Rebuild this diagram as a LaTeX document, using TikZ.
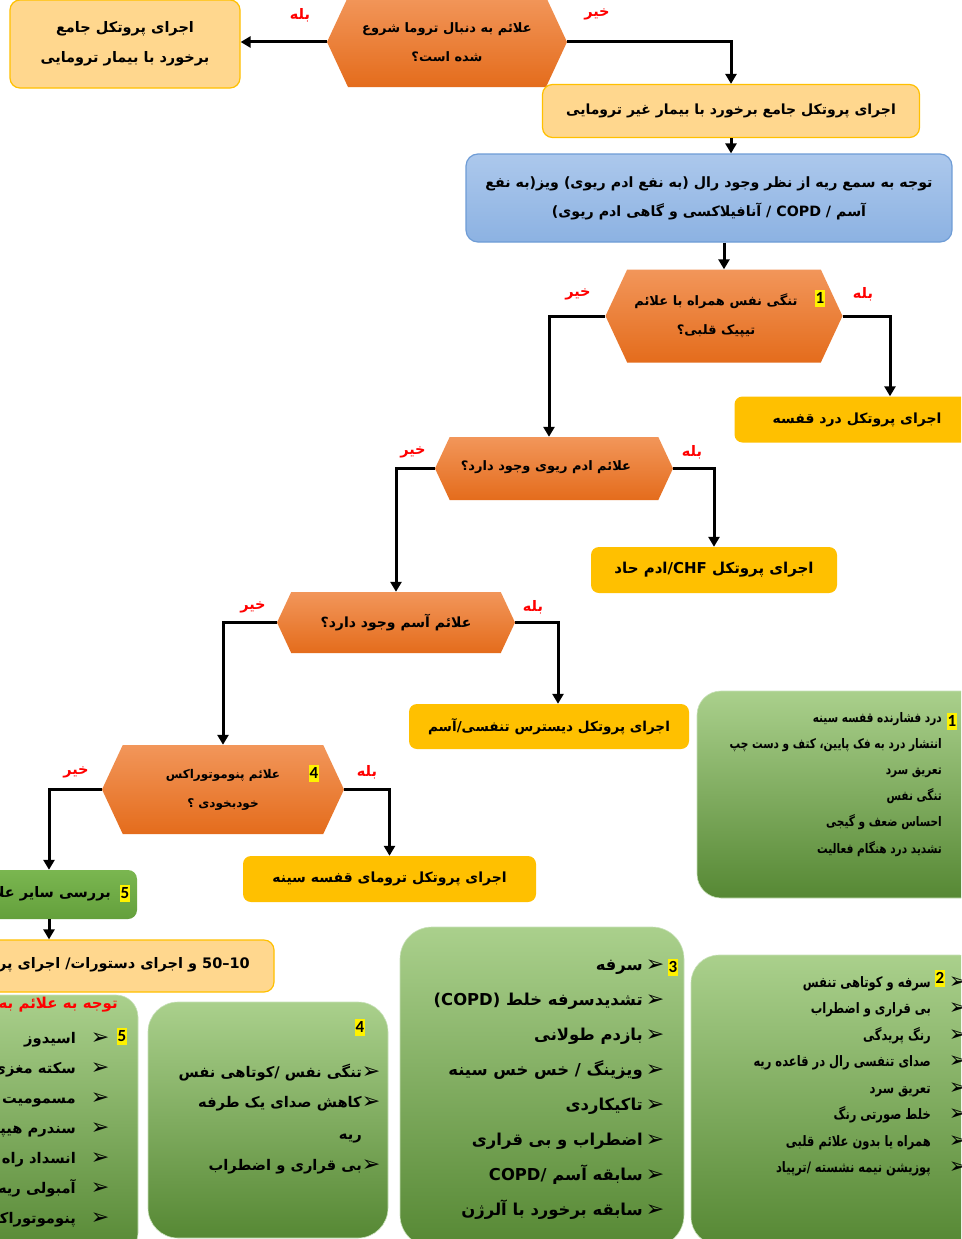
\documentclass[tikz,border=0pt]{standalone}
\usepackage{fontspec}
\usetikzlibrary{shapes.symbols,arrows.meta,calc}
\TeXXeTstate=1
\newfontfamily\fa[Script=Arabic]{DejaVu Sans}
\newfontfamily\facond[Script=Arabic,FakeStretch=0.8]{DejaVu Sans}
\newfontfamily\calib{Carlito}
\newcommand{\fatext}[1]{\beginR#1\endR}
\newcommand{\lat}[1]{\beginL#1\endL}
\definecolor{hexTop}{RGB}{242,150,90}
\definecolor{hexBot}{RGB}{228,108,28}
\definecolor{peach}{RGB}{255,215,142}
\definecolor{gold}{RGB}{255,192,0}
\definecolor{blueTop}{RGB}{172,200,236}
\definecolor{blueBot}{RGB}{140,178,226}
\definecolor{blueLine}{RGB}{110,156,214}
\definecolor{grTop}{RGB}{170,208,140}
\definecolor{grBot}{RGB}{86,136,52}
\definecolor{grEdge}{RGB}{200,225,185}
\definecolor{gFiveTop}{RGB}{122,182,80}
\definecolor{gFiveBot}{RGB}{100,160,60}
\definecolor{labRed}{RGB}{255,0,0}
\begin{document}
\begin{tikzpicture}[x=1pt,y=-1pt,
 hexnode/.style={signal, signal to=west and east, signal pointer angle=130, top color=hexTop, bottom color=hexBot, draw=none, inner sep=0pt, align=center, text=black, font=\fa\bfseries\fontsize{13}{29}\selectfont},
 hextext/.style={inner sep=0pt, align=center, text=black, font=\fa\bfseries\fontsize{13}{29}\selectfont},
 peachbox/.style={rectangle, rounded corners=10pt, fill=peach, draw=gold, line width=1.2pt, inner sep=0pt, align=center, font=\fa\bfseries\fontsize{14.5}{30}\selectfont},
 goldbox/.style={rectangle, rounded corners=8pt, fill=gold, draw=none, inner sep=0pt, font=\fa\bfseries\fontsize{14}{16}\selectfont},
 bluebox/.style={rectangle, rounded corners=12pt, top color=blueTop, bottom color=blueBot, draw=blueLine, line width=1.2pt, inner sep=0pt, align=center, font=\fa\bfseries\fontsize{14.2}{29}\selectfont},
 greenbig/.style={rectangle, rounded corners=28pt, top color=grTop, bottom color=grBot, draw=grEdge, line width=0.6pt, inner sep=0pt},
 greensmall/.style={rectangle, rounded corners=9pt, top color=gFiveTop, bottom color=gFiveBot, draw=none, inner sep=0pt},
 arr/.style={line width=3pt, -{Triangle[length=10pt,width=11pt]}},
 lab/.style={text=labRed, inner sep=0pt, font=\fa\bfseries\fontsize{14.5}{16}\selectfont},
 num/.style={fill=yellow, inner sep=1pt, minimum height=17pt, text=black, font=\calib\bfseries\fontsize{17}{17}\selectfont},
 ltxt/.style={inner sep=0pt, anchor=base east, text=black},
 lone/.style={ltxt, font=\facond\bfseries\fontsize{13.2}{15}\selectfont},
 ltwo/.style={ltxt, font=\facond\bfseries\fontsize{14.4}{16}\selectfont},
 lthree/.style={ltxt, font=\fa\bfseries\fontsize{16.4}{18}\selectfont},
 lfour/.style={ltxt, font=\fa\bfseries\fontsize{14.7}{16}\selectfont},
 bul/.style={inner sep=0pt, anchor=base, text=black, font=\fa\fontsize{22}{22}\selectfont},
]
\useasboundingbox (0,0) rectangle (961,1239);
\clip (0,0) rectangle (961,1239);
\fill[white] (0,0) rectangle (961,1239);

% ---------- top row ----------
\node[hexnode, minimum width=240pt, minimum height=90pt] (h0) at (447,42)
  {\fatext{علائم به دنبال تروما شروع}\\\fatext{شده است؟}};
\node[peachbox, minimum width=230pt, minimum height=88pt] (bL) at (125,44)
  {\fatext{اجرای پروتکل جامع}\\\fatext{برخورد با بیمار ترومایی}};
\node[peachbox, minimum width=377pt, minimum height=53pt, font=\fa\bfseries\fontsize{14}{16}\selectfont] (b1) at (731,111)
  {\fatext{اجرای پروتکل جامع برخورد با بیمار غیر ترومایی}};
\node[bluebox, minimum width=486pt, minimum height=88pt] (bl) at (709,198)
  {\fatext{توجه به سمع ریه از نظر وجود رال (به نفع ادم ریوی) ویز(به نفع}\\\fatext{آسم / \lat{COPD} / آنافیلاکسی و گاهی ادم ریوی)}};

% ---------- decision 1 ----------
\node[hexnode, minimum width=237pt, minimum height=93pt] (h1) at (724,316) {};
\node[hextext] (h1t) at (716,316) {\fatext{تنگی نفس همراه با علائم}\\\fatext{تیپیک قلبی؟}};
\node[num] (n1) at (820,298) {1};
\node[goldbox, minimum width=245pt, minimum height=46pt] (g1) at (857,419.5)
  {\fatext{اجرای پروتکل درد قفسه}};

% ---------- decision 2 ----------
\node[hexnode, minimum width=238pt, minimum height=63pt] (h2) at (554,468.5) {};
\node[hextext] (h2t) at (546,467) {\fatext{علائم ادم ریوی وجود دارد؟}};
\node[goldbox, minimum width=246pt, minimum height=46pt, font=\fa\bfseries\fontsize{15}{16}\selectfont] (gC) at (714,570)
  {\fatext{اجرای پروتکل \lat{CHF}/ادم حاد}};

% ---------- decision 3 ----------
\node[hexnode, minimum width=238pt, minimum height=61pt, font=\fa\bfseries\fontsize{14}{29}\selectfont] (h3) at (396,622.5)
  {\fatext{علائم آسم وجود دارد؟}};
\node[goldbox, minimum width=280pt, minimum height=45pt, font=\fa\bfseries\fontsize{13.6}{16}\selectfont] (gA) at (549,726.5)
  {\fatext{اجرای پروتکل دیسترس تنفسی/آسم}};

% ---------- decision 4 ----------
\node[hexnode, minimum width=242pt, minimum height=89pt, font=\fa\bfseries\fontsize{12}{29}\selectfont] (h4) at (223,789.5)
  {\fatext{علائم پنوموتوراکس}\\\fatext{خودبخودی ؟}};
\node[num] (n4) at (314,773) {4};
\node[goldbox, minimum width=293pt, minimum height=46pt] (gT) at (389.5,879)
  {\fatext{اجرای پروتکل ترومای قفسه سینه}};

% ---------- left bottom chain ----------
\node[greensmall, minimum width=160pt, minimum height=49pt] (g5) at (57,894.5) {};
\node[ltxt, anchor=east, font=\fa\bfseries\fontsize{14.5}{16}\selectfont] (g5t) at (111,894) {\fatext{بررسی سایر علائم}};
\node[num] (n5) at (125,893) {5};
\node[peachbox, minimum width=294pt, minimum height=52pt] (pc) at (127,966) {};
\node[ltxt, anchor=east, font=\fa\bfseries\fontsize{14.5}{16}\selectfont] (pct) at (250,965)
  {\fatext{\lat{10–50} و اجرای دستورات/ اجرای پروتکل مربوطه}};

% ---------- connectors ----------
\draw[arr] (h0.west) -- (h0.west -| bL.east);
\draw[arr] (h0.east) -| (b1.north);
\draw[arr] (b1.south) -- (b1.south |- bl.north);
\draw[arr] (h1.north |- bl.south) -- (h1.north);
\draw[arr] (h1.west) -| ($(h2.north)+(-5,0)$);
\draw[arr] (h1.east) -| ($(g1.north)+(33,0)$);
\draw[arr] (h2.west) -| (h3.north);
\draw[arr] (h2.east) -| (gC.north);
\draw[arr] (h3.west) -| (h4.north);
\draw[arr] (h3.east) -| ($(gA.north)+(9,0)$);
\draw[arr] (h4.west) -| ($(g5.north)+(-8,0)$);
\draw[arr] (h4.east) -| (gT.north);
\coordinate (g5s) at ($(g5.south)+(-8,0)$);
\draw[arr] (g5s) -- (g5s |- pc.north);

% ---------- yes / no labels ----------
\node[lab] (y0) at (300,15) {\fatext{بله}};
\node[lab] (x0) at (597,14) {\fatext{خیر}};
\node[lab] (x1) at (578,294) {\fatext{خیر}};
\node[lab] (y1) at (863,294) {\fatext{بله}};
\node[lab] (x2) at (413,452) {\fatext{خیر}};
\node[lab] (y2) at (692,452) {\fatext{بله}};
\node[lab] (x3) at (253,607) {\fatext{خیر}};
\node[lab] (y3) at (533,607) {\fatext{بله}};
\node[lab] (x4) at (76,772) {\fatext{خیر}};
\node[lab] (y4) at (367,772) {\fatext{بله}};

% ---------- info box 1 ----------
\node[greenbig, rounded corners=24pt, minimum width=292pt, minimum height=207pt] (B1) at (843,794.5) {};
\node[num] (B1n) at (952,721) {1};
\foreach \t [count=\i] in {{درد فشارنده قفسه سینه},{انتشار درد به فک پایین، کتف و دست چپ},{تعریق سرد},{تنگی نفس},{احساس ضعف و گیجی},{تشدید درد هنگام فعالیت}}
  \node[lone] (B1t\i) at (942,{722+(\i-1)*26.2}) {\fatext{\t}};

% ---------- info box 2 ----------
\node[greenbig, minimum width=296pt, minimum height=290pt] (B2) at (839,1100) {};
\node[num] (B2n) at (940,978) {2};
\foreach \t [count=\i] in {{سرفه و کوتاهی تنفس},{بی قراری و اضطراب},{رنگ پریدگی},{صدای تنفسی رال در قاعده ریه},{تعریق سرد},{خلط صورتی رنگ},{همراه یا بدون علائم قلبی},{پوزیشن نیمه نشسته /ترپیاد}}
  {\node[ltwo] (B2t\i) at (931,{987+(\i-1)*26.5}) {\fatext{\t}};
   \node[bul] (B2a\i) at (958,{988+(\i-1)*26.5}) {➢};}

% ---------- info box 3 ----------
\node[greenbig, rounded corners=32pt, minimum width=284pt, minimum height=320pt] (B3) at (542,1087) {};
\node[num] (B3n) at (673,967) {3};
\foreach \t [count=\i] in {{سرفه},{تشدیدسرفه خلط (\lat{COPD})},{بازدم طولانی},{ویزینگ / خس خس سینه},{تاکیکاردی},{اضطراب و بی قراری},{سابقه آسم /\lat{COPD}},{سابقه برخورد با آلرژن}}
  {\node[lthree] (B3t\i) at (643,{970+(\i-1)*35.1}) {\fatext{\t}};
   \node[bul] (B3a\i) at (655,{971+(\i-1)*35.1}) {➢};}

% ---------- info box 4 ----------
\node[greenbig, rounded corners=30pt, minimum width=240pt, minimum height=236pt] (B4) at (268,1120) {};
\node[num] (B4n) at (360,1027) {4};
\node[lfour] (B4t1) at (362,1077) {\fatext{تنگی نفس /کوتاهی نفس}};
\node[bul] (B4a1) at (371,1078) {➢};
\node[lfour] (B4t2) at (362,1107) {\fatext{کاهش صدای یک طرفه}};
\node[bul] (B4a2) at (371,1108) {➢};
\node[lfour] (B4t3) at (362,1139) {\fatext{ریه}};
\node[lfour] (B4t4) at (362,1170) {\fatext{بی قراری و اضطراب}};
\node[bul] (B4a4) at (371,1171) {➢};

% ---------- info box 5 ----------
\node[greenbig, rounded corners=22pt, minimum width=170pt, minimum height=260pt] (B5) at (53,1125) {};
\node[ltxt, anchor=east, text=labRed, font=\fa\bfseries\fontsize{15}{16}\selectfont] (B5h) at (118,1005) {\fatext{توجه به علائم به نفع سایر تشخیص ها}};
\node[num] (B5n) at (122,1036) {5};
\foreach \t [count=\i] in {{اسیدوز},{سکته مغزی},{مسمومیت},{سندرم هیپرونتیلاسیون},{انسداد راه هوایی},{آمبولی ریه},{پنوموتوراکس}}
  {\node[lfour] (B5t\i) at (76,{1043+(\i-1)*30}) {\fatext{\t}};
   \node[bul] (B5a\i) at (100,{1044+(\i-1)*30}) {➢};}
\end{tikzpicture}
\end{document}
